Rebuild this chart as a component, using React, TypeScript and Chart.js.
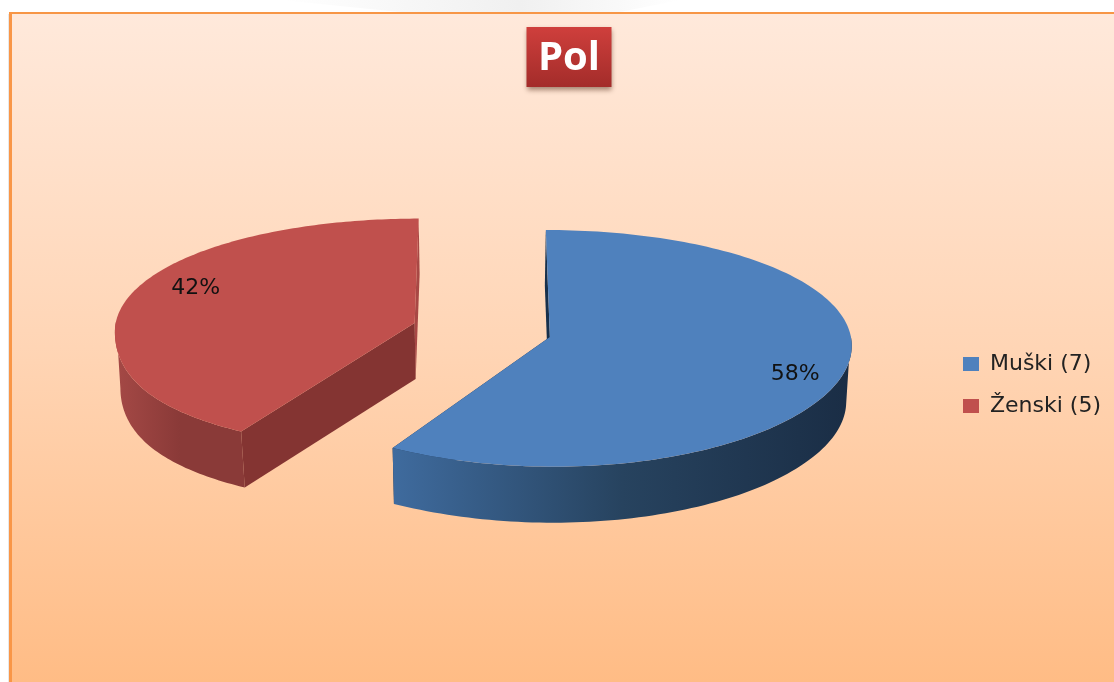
import React, { useEffect, useRef } from "react";
import { Chart, registerables } from "chart.js";

Chart.register(...registerables);

const categories = ["Muški (7)", "Ženski (5)"];
const counts = [7, 5];
const topColors = ["#4F81BD", "#C0504D"];
const sideStops = [
  ["#3F6B9E", "#27435F", "#1A2D45"],
  ["#A54946", "#8A3A38", "#8A3A38"],
];
const farFaceColors = ["#17304C", "#A84845"];
const nearFaceColors = ["#1A2D45", "#843432"];
const labelNudges = [[3, 12], [14, -11]];
const titleText = "Pol";

const VIEW = { cx: 482, cy: 330, depth: 56, shrink: 0.015 };
const f = (d: number) => d * (0.39 + 0.000125 * d);
const persp = (wx: number, d: number) => 1 + 0.0002 * d + (wx < 0 && d > 0 ? 4.6e-9 * d * d * -wx : 0);
const project = (wx: number, wy: number, z = 0) => ({
  x: VIEW.cx + wx * persp(wx, wy) * (1 - VIEW.shrink * z),
  y: VIEW.cy + f(wy) + VIEW.depth * z,
});

function poly(ctx: CanvasRenderingContext2D, pts: { x: number; y: number }[], fill: any) {
  ctx.beginPath();
  pts.forEach((p, i) => (i ? ctx.lineTo(p.x, p.y) : ctx.moveTo(p.x, p.y)));
  ctx.closePath();
  ctx.fillStyle = fill;
  ctx.fill();
}

const backdrop = {
  id: "backdrop",
  beforeDraw(chart: any) {
    const { ctx, width, height, titleBlock } = chart;
    ctx.save();
    // faint watermark above the frame
    const wm = ctx.createLinearGradient(280, 0, 680, 0);
    wm.addColorStop(0, "#FFFFFF");
    wm.addColorStop(0.6, "#F0F0F0");
    wm.addColorStop(1, "#FFFFFF");
    poly(ctx, [{ x: 280, y: 0 }, { x: 680, y: 0 }, { x: 620, y: 12 }, { x: 400, y: 12 }], wm);
    // frame shadow
    ctx.fillStyle = "#E8E8E8";
    ctx.fillRect(8, 14, 1, height - 14);
    const g = ctx.createLinearGradient(0, 14, 0, height);
    g.addColorStop(0, "#FFE9DB");
    g.addColorStop(0.5, "#FFD5B5");
    g.addColorStop(1, "#FFBC85");
    ctx.fillStyle = g;
    ctx.fillRect(10, 13, width - 10, height - 13);
    ctx.fillStyle = "#F79646";
    ctx.fillRect(9, 12, width - 9, 2);
    ctx.fillStyle = "#F99647";
    ctx.fillRect(9, 12, 3, height - 12);
    // title plate
    const cx = (titleBlock.left + titleBlock.right) / 2;
    const w = 85, h = 60, top = 27;
    ctx.shadowColor = "rgba(90,50,30,0.55)";
    ctx.shadowBlur = 5;
    ctx.shadowOffsetY = 3;
    const tg = ctx.createLinearGradient(0, top, 0, top + h);
    tg.addColorStop(0, "#CF3F3C");
    tg.addColorStop(1, "#A32C2A");
    ctx.fillStyle = tg;
    ctx.fillRect(cx - w / 2, top, w, h);
    ctx.restore();
  },
};

const tiltedPie = {
  id: "tiltedPie",
  beforeDatasetsDraw(chart: any) {
    const { ctx } = chart;
    const meta = chart.getDatasetMeta(0);
    const total = counts.reduce((a, b) => a + b, 0);
    ctx.save();
    meta.data.forEach((el: any, i: number) => {
      const { startAngle, endAngle, outerRadius: R } = el.getProps(["startAngle", "endAngle", "outerRadius"], true);
      const mid = (startAngle + endAngle) / 2;
      const off = el.options.offset;
      const ax = off * Math.cos(mid);
      const ay = off * Math.sin(mid);
      const rim = (a: number, z = 0) => project(ax + R * Math.cos(a), ay + R * Math.sin(a), z);
      const N = 160;
      const angles = Array.from({ length: N + 1 }, (_, k) => startAngle + ((endAngle - startAngle) * k) / N);

      // cut faces: the upper edge is seen edge-on, the lower edge faces the viewer
      const farAngle = i === 0 ? startAngle : endAngle;
      const nearAngle = i === 0 ? endAngle : startAngle;
      poly(ctx, [rim(farAngle), project(ax, ay), project(ax, ay, 1), rim(farAngle, 1)], farFaceColors[i]);
      poly(ctx, [rim(nearAngle), project(ax, ay), project(ax, ay, 1), rim(nearAngle, 1)], nearFaceColors[i]);

      // outer wall, from the widest point of the top rim to the tangent on the lower rim
      const upper = angles.filter((a) => Math.sin(a) > -0.02);
      const lower = angles.filter((a) => Math.sin(a) > 0.08);
      const low = [...upper.map((a) => rim(a)), ...[...lower].reverse().map((a) => rim(a, 1))];
      const xs = low.map((p) => p.x);
      const g = ctx.createLinearGradient(Math.min(...xs), 0, Math.max(...xs), 0);
      g.addColorStop(0, sideStops[i][0]);
      g.addColorStop(0.5, sideStops[i][1]);
      g.addColorStop(1, sideStops[i][2]);
      poly(ctx, low, g);

      // top surface
      poly(ctx, [project(ax, ay), ...angles.map((a) => rim(a))], topColors[i]);

      // value label
      const lr = R * 0.82;
      const p = project(ax + lr * Math.cos(mid), ay + lr * Math.sin(mid));
      ctx.fillStyle = "#111111";
      ctx.font = '22px "DejaVu Sans"';
      ctx.textAlign = "center";
      ctx.textBaseline = "middle";
      ctx.fillText(`${Math.round((counts[i] / total) * 100)}%`, p.x + labelNudges[i][0], p.y + labelNudges[i][1]);
    });
    ctx.restore();
    return false;
  },
};

export default function App() {
  const ref = useRef<HTMLCanvasElement>(null);
  useEffect(() => {
    document.body.style.margin = "0";
    document.body.style.background = "#FFFFFF";
    const chart = new Chart(ref.current!, {
      type: "pie",
      data: {
        labels: categories,
        datasets: [{ data: counts, backgroundColor: topColors, borderWidth: 0, offset: 70 }],
      },
      plugins: [backdrop, tiltedPie],
      options: {
        animation: false,
        responsive: false,
        radius: 300,
        layout: { padding: { left: 27, right: 3 } },
        plugins: {
          tooltip: { enabled: false },
          title: {
            display: true,
            text: titleText,
            color: "#FFFFFF",
            font: { family: '"Open Sans"', size: 40, weight: "bold", lineHeight: 1.2 },
            padding: { top: 35, bottom: 5 },
          },
          legend: {
            position: "right",
            fullSize: false,
            labels: {
              boxWidth: 16,
              boxHeight: 14,
              padding: 20,
              color: "#222222",
              font: { family: '"DejaVu Sans"', size: 22 },
            },
          },
        },
      },
    } as any);
    return () => chart.destroy();
  }, []);
  return <canvas ref={ref} width={1114} height={682} style={{ display: "block" }} />;
}
